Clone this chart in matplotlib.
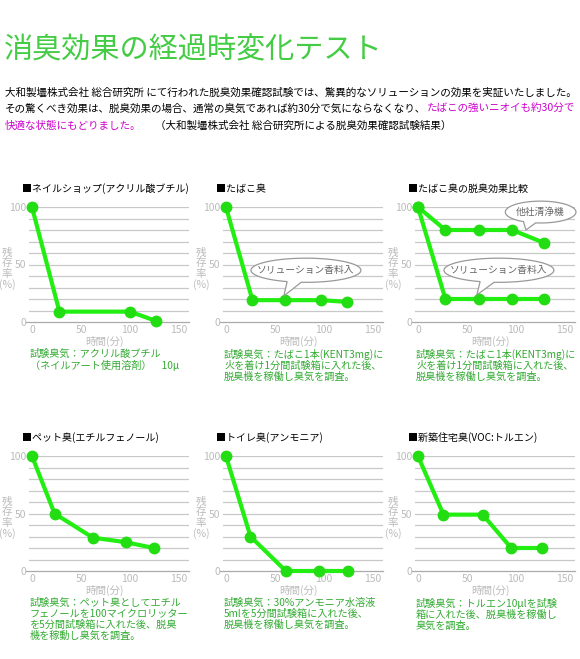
import numpy as np
import matplotlib
matplotlib.use("Agg")
import matplotlib.pyplot as plt
from matplotlib.patches import Polygon

plt.rcParams['font.family'] = ['Noto Sans CJK JP', 'DejaVu Sans']

W, H = 580, 659

# data (time in minutes, residual ratio in %)
nail_t = [0, 28, 100, 126]
nail_v = [100, 9, 9, 1]
tabako_t = [0, 27, 60, 97, 123]
tabako_v = [100, 19, 19, 19, 17.5]
comp_t = [0, 28, 62, 96, 128]
other_v = [100, 80, 80, 80, 69]
sol_v = [100, 20, 20, 20, 20]
pet_t = [0, 23, 62, 96, 124]
pet_v = [100, 50, 29, 25, 20]
toilet_t = [0, 25, 61, 95, 124]
toilet_v = [100, 30, 0, 0, 0]
voc_t = [0, 26, 66, 95, 126]
voc_v = [100, 49, 49, 20, 20]

titles = ['■ネイルショップ(アクリル酸ブチル)', '■たばこ臭', '■たばこ臭の脱臭効果比較',
          '■ペット臭(エチルフェノール)', '■トイレ臭(アンモニア)', '■新築住宅臭(VOC:トルエン)']
notes = ['試験臭気：アクリル酸ブチル\n（ネイルアート使用溶剤）　10μ',
         '試験臭気：たばこ1本(KENT3mg)に\n火を着け1分間試験箱に入れた後、\n脱臭機を稼働し臭気を調査。',
         '試験臭気：たばこ1本(KENT3mg)に\n火を着け1分間試験箱に入れた後、\n脱臭機を稼働し臭気を調査。',
         '試験臭気：ペット臭としてエチル\nフェノールを100マイクロリッター\nを5分間試験箱に入れた後、脱臭\n機を稼動し臭気を調査。',
         '試験臭気：30%アンモニア水溶液\n5mlを5分間試験箱に入れた後、\n脱臭機を稼働し臭気を調査。',
         '試験臭気：トルエン10μlを試験\n箱に入れた後、脱臭機を稼働し\n臭気を調査。']
series = [[(nail_t, nail_v)], [(tabako_t, tabako_v)], [(comp_t, other_v), (comp_t, sol_v)],
          [(pet_t, pet_v)], [(toilet_t, toilet_v)], [(voc_t, voc_v)]]
xticks = [0, 50, 100, 150]
yticks = [0, 50, 100]

GREEN = '#22ee11'
GRAY = '#bbbbbb'
NOTE = '#33aa33'

fig = plt.figure(figsize=(W / 100, H / 100), dpi=100)


def fx(x):
    return x / W


def fy(y):
    return 1 - y / H


# header
fig.text(fx(4), fy(50), '消臭効果の経過時変化テスト', fontsize=21, color='#44cc44',
         va='center', ha='left')
fs = 7.6
fig.text(fx(5), fy(93), '大和製壜株式会社 総合研究所 にて行われた脱臭効果確認試験では、驚異的なソリューションの効果を実証いたしました。',
         fontsize=fs, va='center')
fig.text(fx(5), fy(109), 'その驚くべき効果は、脱臭効果の場合、通常の臭気であれば約30分で気にならなくなり、',
         fontsize=fs, va='center')
fig.text(fx(427), fy(109), 'たばこの強いニオイも約30分で', fontsize=fs, va='center', color='#cc00cc')
fig.text(fx(5), fy(126), '快適な状態にもどりました。', fontsize=fs, va='center', color='#cc00cc')
fig.text(fx(155), fy(126), '（大和製壜株式会社 総合研究所による脱臭効果確認試験結果）',
         fontsize=fs, va='center')

lefts = [29, 223, 415]
tops = [207, 456]
aw, ah = 160, 115


def bubble(ax, cx, cy, w, h, tip, a1, a2, label):
    ang = np.radians(np.linspace(a2, a1 + 360, 120))
    pts = np.column_stack([cx + w / 2 * np.cos(ang), cy + h / 2 * np.sin(ang)])
    pts = np.vstack([pts, tip])
    ax.add_patch(Polygon(pts, closed=True, facecolor='white', edgecolor='#999999',
                         lw=0.9, clip_on=False, zorder=5))
    ax.text(cx, cy, label, ha='center', va='center', fontsize=7, color='#666666',
            zorder=6, clip_on=False)


axes = []
for i in range(6):
    r, c = divmod(i, 3)
    left, top = lefts[c], tops[r]
    ax = fig.add_axes([fx(left), fy(top + ah), aw / W, ah / H])
    axes.append(ax)
    ax.set_xlim(-3, 160)
    ax.set_ylim(0, 100)
    for s in ax.spines.values():
        s.set_visible(False)
    for g in range(10, 101, 10):
        ax.axhline(g, color='#c8c8c8', lw=0.9, zorder=1)
    ax.plot([-6, 160], [0, 0], color='#aaaaaa', lw=0.9, clip_on=False, zorder=1)
    ax.set_xticks(xticks)
    ax.set_yticks(yticks)
    ax.tick_params(length=0, labelsize=7.5, labelcolor=GRAY, pad=2)
    for t, v in series[i]:
        ax.plot(t, v, color=GREEN, lw=3, marker='o', ms=7.5, mfc='#22dd11', mec='#22dd11',
                clip_on=False, zorder=4)
    fig.text(fx(left + 75), fy(top + 134), '時間(分)', fontsize=7.6, color=GRAY,
             ha='center', va='center')
    fig.text(fx(left - 22), fy(top + 62), '残\n存\n率\n(%)', fontsize=7.6, color=GRAY,
             ha='center', va='center', linespacing=1.05)
    fig.text(fx(left - 7), fy(top - 18), titles[i], fontsize=7.2, color='black',
             ha='left', va='center')
    fig.text(fx(left + 1), fy(top + 142), notes[i], fontsize=7.3, color=NOTE,
             ha='left', va='top', linespacing=1.1)

bubble(axes[1], 81.5, 45, 112, 21, (59, 22.6), 250, 265, 'ソリューション香料入')
bubble(axes[2], 125, 95.6, 72, 19, (110, 80), 241, 262, '他社清浄機')
bubble(axes[2], 82.5, 45, 112, 21, (60, 23.5), 250, 265, 'ソリューション香料入')

fig.savefig('out.png', dpi=100)
